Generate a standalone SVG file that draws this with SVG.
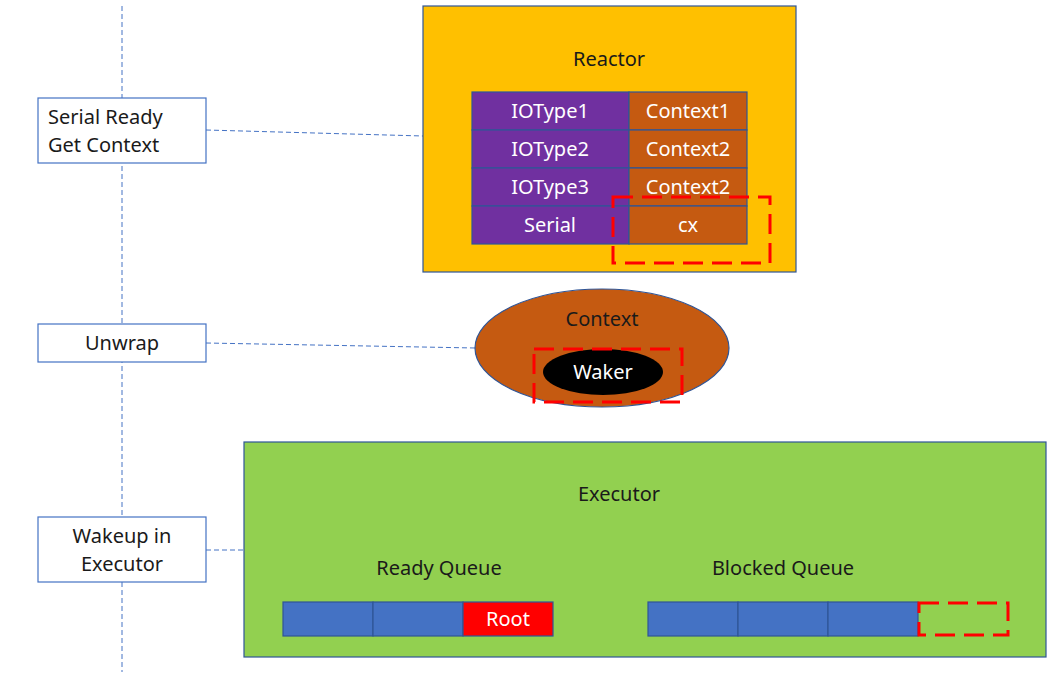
<svg xmlns="http://www.w3.org/2000/svg" width="1059" height="679" viewBox="0 0 1059 679">
<style>
text{font-family:"Noto Sans","Open Sans","DejaVu Sans",sans-serif;font-size:20px;}
.c{text-anchor:middle;}
.w{fill:#ffffff;}
.k{fill:#1a1a1a;}
.label{fill:#ffffff;stroke:#4472C4;stroke-width:1.2;}
.conn{stroke:#4472C4;stroke-width:1;stroke-dasharray:5 3;fill:none;}
.red{fill:none;stroke:#FF0000;stroke-width:3;stroke-dasharray:20 9;}
.cell{stroke:#2F5597;stroke-width:1.2;}
</style>
<g id="connectors">
<line class="conn" x1="122" y1="6" x2="122" y2="672"/>
<line class="conn" x1="206" y1="130" x2="423" y2="136"/>
<line class="conn" x1="206" y1="343" x2="475" y2="348"/>
<line class="conn" x1="206" y1="550" x2="244" y2="550"/>
</g>
<g id="label-serial">
<rect class="label" x="38" y="98" width="168" height="65"/>
<text class="k" x="48" y="124">Serial Ready</text>
<text class="k" x="48" y="152">Get Context</text>
</g>
<g id="label-unwrap">
<rect class="label" x="38" y="324" width="168" height="38"/>
<text class="k c" x="122" y="350">Unwrap</text>
</g>
<g id="label-wakeup">
<rect class="label" x="38" y="517" width="168" height="65"/>
<text class="k c" x="122" y="543">Wakeup in</text>
<text class="k c" x="122" y="571">Executor</text>
</g>
<g id="reactor">
<rect x="423" y="6" width="373" height="266" fill="#FFC000" stroke="#2F5597" stroke-width="1.2"/>
<text class="k c" x="609" y="66">Reactor</text>
<rect class="cell" x="472" y="92" width="157" height="38" fill="#7030A0"/>
<rect class="cell" x="629" y="92" width="118" height="38" fill="#C55A11"/>
<rect class="cell" x="472" y="130" width="157" height="38" fill="#7030A0"/>
<rect class="cell" x="629" y="130" width="118" height="38" fill="#C55A11"/>
<rect class="cell" x="472" y="168" width="157" height="38" fill="#7030A0"/>
<rect class="cell" x="629" y="168" width="118" height="38" fill="#C55A11"/>
<rect class="cell" x="472" y="206" width="157" height="38" fill="#7030A0"/>
<rect class="cell" x="629" y="206" width="118" height="38" fill="#C55A11"/>
<text class="w c" x="550" y="118">IOType1</text>
<text class="w c" x="688" y="118">Context1</text>
<text class="w c" x="550" y="156">IOType2</text>
<text class="w c" x="688" y="156">Context2</text>
<text class="w c" x="550" y="194">IOType3</text>
<text class="w c" x="688" y="194">Context2</text>
<text class="w c" x="550" y="232">Serial</text>
<text class="w c" x="688" y="232">cx</text>
<rect class="red" x="613" y="197" width="157" height="66"/>
</g>
<g id="context">
<ellipse cx="602" cy="348" rx="127" ry="59" fill="#C55A11" stroke="#2F5597" stroke-width="1.2"/>
<text class="k c" x="602" y="326">Context</text>
<ellipse cx="603" cy="372" rx="60" ry="23" fill="#000000"/>
<text class="w c" x="603" y="379">Waker</text>
<rect class="red" x="534" y="349" width="148" height="53"/>
</g>
<g id="executor">
<rect x="244" y="442" width="802" height="215" fill="#92D050" stroke="#2F5597" stroke-width="1.2"/>
<text class="k c" x="619" y="501">Executor</text>
<text class="k c" x="439" y="575">Ready Queue</text>
<text class="k c" x="783" y="575">Blocked Queue</text>
<rect class="cell" x="283" y="602" width="90" height="34" fill="#4472C4"/>
<rect class="cell" x="373" y="602" width="90" height="34" fill="#4472C4"/>
<rect x="463" y="602" width="90" height="34" fill="#FF0000" stroke="#2F5597" stroke-width="1.2"/>
<text class="w c" x="508" y="626">Root</text>
<rect class="cell" x="648" y="602" width="90" height="34" fill="#4472C4"/>
<rect class="cell" x="738" y="602" width="90" height="34" fill="#4472C4"/>
<rect class="cell" x="828" y="602" width="90" height="34" fill="#4472C4"/>
<rect class="red" x="919" y="603" width="89" height="32"/>
</g>
</svg>
